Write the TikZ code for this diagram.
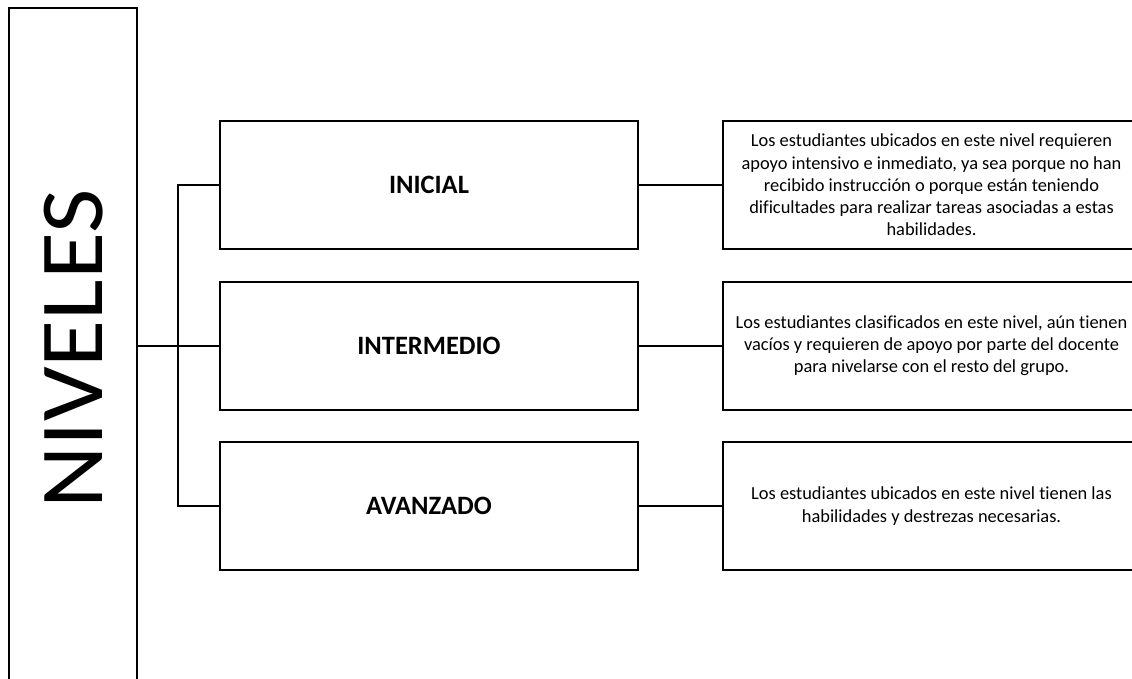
\documentclass[tikz,border=0pt]{standalone}
\usepackage{fontspec}
\setmainfont{Carlito}[Ligatures={NoCommon}]
\begin{document}
\begin{tikzpicture}[x=1pt,y=-1pt,
  box/.style={draw=black,line width=2pt,rectangle,inner sep=0pt},
  lvl/.style={box,minimum width=418pt,minimum height=128pt,font=\fontsize{26.5}{30}\selectfont\bfseries},
  desc/.style={box,minimum width=417pt,minimum height=128pt,align=center,font=\fontsize{18.4}{22.2}\selectfont},
  conn/.style={line width=2pt}]
\useasboundingbox (0,0) rectangle (1132,679);
\clip (0,0) rectangle (1132,679);
\node[box,minimum width=128pt,minimum height=720pt] (niv) at (73,368) {};
\node[rotate=90,font=\fontsize{90}{100}\selectfont,inner sep=0pt,xscale=1.07] (nivt) at (73.5,349) {NIVELES};
\node[lvl] (b1) at (429,185) {INICIAL};
\node[lvl] (b2) at (429,345.5) {INTERMEDIO};
\node[lvl] (b3) at (429,506) {AVANZADO};
\node[desc] (d1) at (931.5,185) {Los estudiantes ubicados en este nivel requieren\\apoyo intensivo e inmediato, ya sea porque no han\\recibido instrucción o porque están teniendo\\dificultades para realizar tareas asociadas a estas\\habilidades.};
\node[desc] (d2) at (931.5,345.5) {Los estudiantes clasificados en este nivel, aún tienen\\vacíos y requieren de apoyo por parte del docente\\para nivelarse con el resto del grupo.};
\node[desc] (d3) at (931.5,506) {Los estudiantes ubicados en este nivel tienen las\\habilidades y destrezas necesarias.};
\coordinate (j) at (178,345.5);
\draw[conn] (niv.east |- b2.west) -- (b2.west);
\draw[conn] (b1.west) -| (j) |- (b3.west);
\draw[conn] (b1.east) -- (d1.west);
\draw[conn] (b2.east) -- (d2.west);
\draw[conn] (b3.east) -- (d3.west);
\end{tikzpicture}
\end{document}
